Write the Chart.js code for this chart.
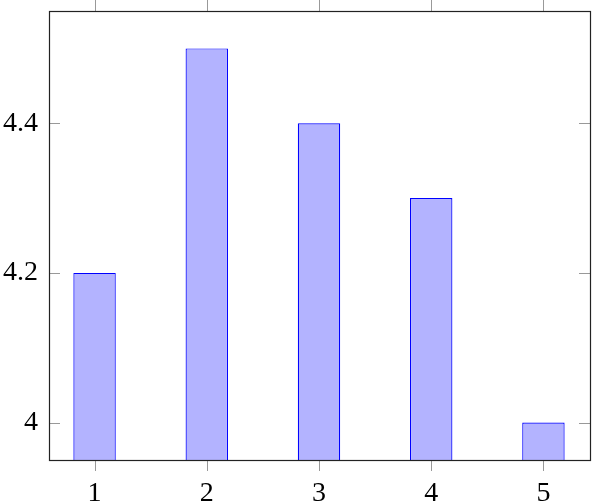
<!DOCTYPE html>
<html>
<head>
<meta charset="utf-8">
<script src="https://cdn.jsdelivr.net/npm/chart.js@4"></script>
<style>
  html, body { margin: 0; padding: 0; background: #fff; }
  #wrap { width: 592px; height: 504px; }
</style>
</head>
<body>
<div id="wrap"><canvas id="c" width="592" height="504"></canvas></div>
<script>
const categories = [1, 2, 3, 4, 5];
const values = [4.2, 4.5, 4.4, 4.3, 4.0];
const xTicks = [1, 2, 3, 4, 5];
const yTicks = [4, 4.2, 4.4];
const yTickLabels = ['4', '4.2', '4.4'];

const FONT = { family: "'Liberation Serif', 'Times New Roman', serif", size: 28 };

const framePlugin = {
  id: 'frame',
  afterDraw(chart) {
    const ctx = chart.ctx;
    const a = chart.chartArea;
    const xs = chart.scales.x, ys = chart.scales.y;
    const L = 11;
    ctx.save();
    ctx.lineWidth = 1;
    ctx.strokeStyle = '#999';
    ctx.beginPath();
    xTicks.forEach(v => {
      const px = Math.round(xs.getPixelForValue(v)) + 0.5;
      ctx.moveTo(px, a.top - L); ctx.lineTo(px, a.top);
      ctx.moveTo(px, a.bottom); ctx.lineTo(px, a.bottom + L);
    });
    yTicks.forEach(v => {
      const py = Math.round(ys.getPixelForValue(v)) + 0.5;
      ctx.moveTo(a.left, py); ctx.lineTo(a.left + L, py);
      ctx.moveTo(a.right, py); ctx.lineTo(a.right - L, py);
    });
    ctx.stroke();
    ctx.strokeStyle = '#222';
    ctx.lineWidth = 1.2;
    ctx.strokeRect(a.left + 0.5, a.top + 0.5, a.right - a.left, a.bottom - a.top);
    ctx.restore();
  }
};

new Chart(document.getElementById('c'), {
  type: 'bar',
  data: {
    datasets: [{
      data: categories.map((c, i) => ({ x: c, y: values[i] })),
      backgroundColor: 'rgb(179,179,255)',
      borderColor: '#0000ff',
      borderWidth: 1.2,
      barPercentage: 0.378,
      categoryPercentage: 1.0
    }]
  },
  options: {
    responsive: false,
    animation: false,
    layout: { padding: { top: 11, right: 2, left: 0, bottom: 0 } },
    plugins: { legend: { display: false }, tooltip: { enabled: false } },
    scales: {
      x: {
        type: 'linear',
        offset: false,
        min: 0.594,
        max: 5.415,
        afterFit(s) { s.height = 44; s.paddingLeft = 0; s.paddingRight = 0; },
        afterBuildTicks(s) { s.ticks = xTicks.map(v => ({ value: v })); },
        grid: { display: false, drawTicks: false, offset: false },
        border: { display: false },
        ticks: {
          font: FONT, color: '#000', padding: 17,
          maxRotation: 0, autoSkip: false,
          callback: v => String(v)
        }
      },
      y: {
        type: 'linear',
        min: 3.95,
        max: 4.55,
        afterFit(s) { s.width = 49; s.paddingTop = 0; s.paddingBottom = 0; },
        afterBuildTicks(s) { s.ticks = yTicks.map(v => ({ value: v })); },
        grid: { display: false, drawTicks: false },
        border: { display: false },
        ticks: {
          font: FONT, color: '#000', padding: 11, autoSkip: false,
          callback: (v) => { const i = yTicks.indexOf(v); return i >= 0 ? yTickLabels[i] : ''; }
        }
      }
    }
  },
  plugins: [framePlugin]
});
</script>
</body>
</html>
